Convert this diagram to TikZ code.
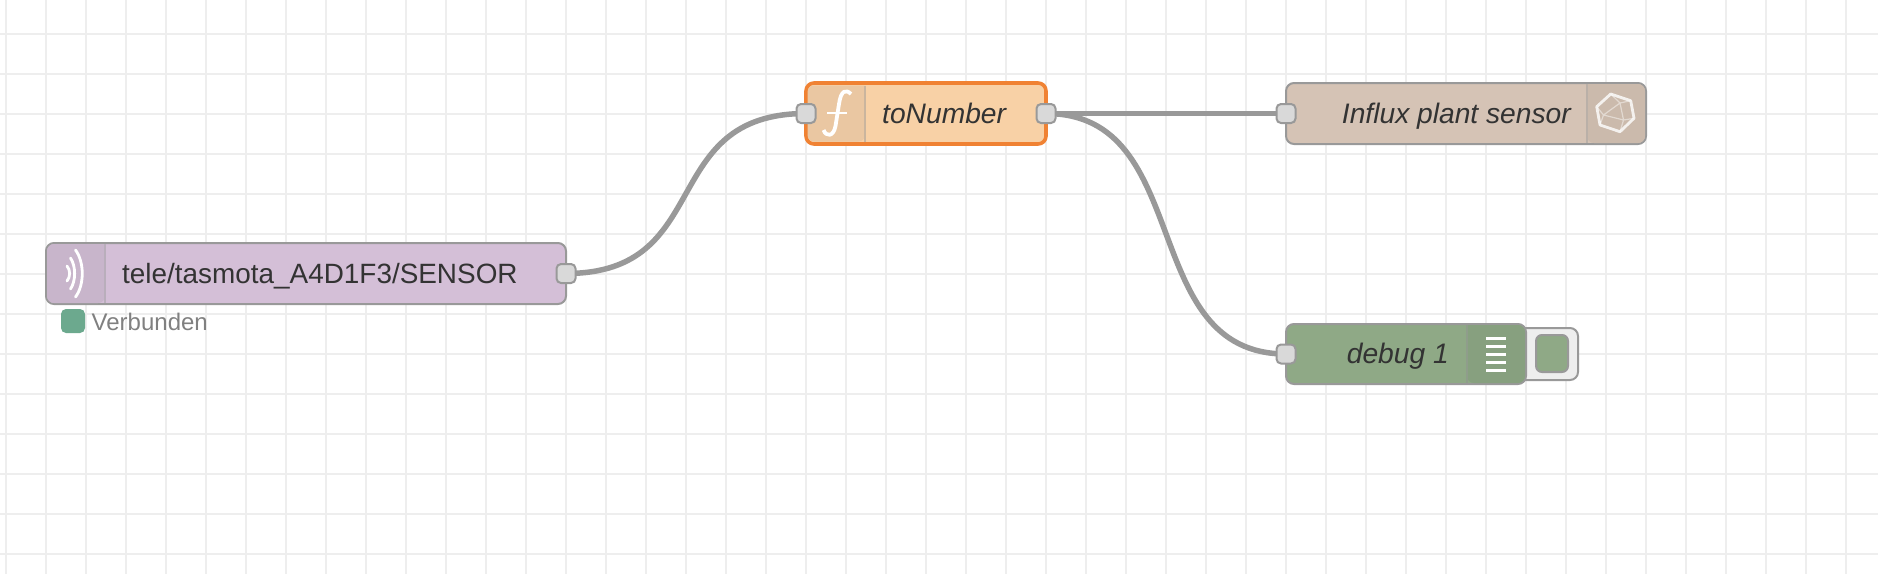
\documentclass[tikz,border=0pt]{standalone}
\usepackage{fontspec}
\setmainfont{Liberation Sans}
\pgfdeclarelayer{gridlayer}
\pgfdeclarelayer{wirelayer}
\pgfsetlayers{gridlayer,wirelayer,main}
\definecolor{gridc}{HTML}{EEEEEE}
\definecolor{edgec}{HTML}{999999}
\definecolor{portc}{HTML}{D9D9D9}
\definecolor{mqttc}{HTML}{D4BFD7}
\definecolor{mqtti}{HTML}{C8B5CB}
\definecolor{funcc}{HTML}{F8D1A6}
\definecolor{funci}{HTML}{EAC7A2}
\definecolor{inflc}{HTML}{D5C3B5}
\definecolor{infli}{HTML}{CBBAAC}
\definecolor{dbgc}{HTML}{8FA986}
\definecolor{dbgi}{HTML}{87A07F}
\definecolor{orangec}{HTML}{F08233}
\definecolor{textc}{HTML}{333333}
\definecolor{statc}{HTML}{6CA98E}
\tikzset{
  x=1pt,y=-1pt,
  flownode/.style={draw=edgec,line width=2pt,rounded corners=8pt,inner sep=0pt,outer sep=0pt},
  port/.style={draw=edgec,fill=portc,line width=2pt,rounded corners=4.5pt,minimum width=19pt,minimum height=19pt,inner sep=0pt},
  wire/.style={draw=edgec,line width=5.5pt},
  label/.style={font=\fontsize{27.9}{32}\selectfont,text=textc,inner sep=0pt},
  ilabel/.style={font=\fontsize{28.2}{32}\selectfont\itshape,text=textc,inner sep=0pt},
  icons/.style={draw=white,line width=2.8pt,line cap=round,line join=round},
  divider/.style={line width=1.2pt},
}
\begin{document}
\begin{tikzpicture}
\useasboundingbox (0,0) rectangle (1878,574);
\begin{pgfonlayer}{gridlayer}
\fill[white] (0,0) rectangle (1878,574);
\foreach \gx in {0,...,46} \draw[gridc,line width=2pt] ({6+40*\gx},0) -- ({6+40*\gx},574);
\foreach \gy in {0,...,13} \draw[gridc,line width=2pt] (0,{34+40*\gy}) -- (1878,{34+40*\gy});
\end{pgfonlayer}

% MQTT node
\node[flownode,fill=mqttc,minimum width=520pt,minimum height=61pt] (mqtt) at (306,273.5) {};
\fill[mqtti,rounded corners=7pt] (105,244) -- (47,244) -- (47,303) -- (105,303) [sharp corners] -- cycle;
\draw[edgec!45!mqttc,divider] (105,244) -- (105,303);
\draw[icons] (67,266) .. controls (70.5,270) and (70.5,277) .. (67,281);
\draw[icons] (70.5,258) .. controls (76,266) and (76,281) .. (70.5,289);
\draw[icons] (75.5,250) .. controls (84.5,262) and (84.5,285) .. (75.5,297);
\node[label,anchor=base west] (mqttlabel) at (122,283) {tele/tasmota\_A4D1F3/SENSOR};
\node[port] (mqttout) at (566,273.5) {};

% status
\node[fill=statc,rounded corners=5pt,minimum width=24pt,minimum height=24pt,inner sep=0pt] (status) at (73,321) {};
\node[font=\fontsize{24}{28}\selectfont,text=black!50,anchor=base west,inner sep=0pt] (statuslabel) at (91.5,330) {Verbunden};

% function node
\node[flownode,draw=orangec,line width=3.6pt,fill=funcc,minimum width=240pt,minimum height=61pt] (func) at (926,113.5) {};
\fill[funci,rounded corners=6.5pt] (865,85.5) -- (807.5,85.5) -- (807.5,141.5) -- (865,141.5) [sharp corners] -- cycle;
\draw[edgec!40!funci,divider] (865,85.5) -- (865,141.5);
\draw[icons,line width=3.8pt,line cap=butt] (851,94) .. controls (846,89) and (841,90) .. (839,104) -- (835.5,126) .. controls (833.5,137) and (826,137) .. (823.5,130);
\draw[icons,line width=2.8pt,line cap=butt] (827,113) -- (847,113);
\node[ilabel,anchor=base west] (funclabel) at (882,123) {toNumber};
\node[port] (funcin) at (806,113.5) {};
\node[port] (funcout) at (1046,113.5) {};

% influx node
\node[flownode,fill=inflc,minimum width=360pt,minimum height=61pt] (influx) at (1466,113.5) {};
\fill[infli,rounded corners=7pt] (1587,84) -- (1645,84) -- (1645,143) -- (1587,143) [sharp corners] -- cycle;
\draw[edgec!45!inflc,divider] (1587,84) -- (1587,143);
\draw[icons,opacity=.8] (1610.7,94) -- (1630.7,100.7) -- (1634,118.3) -- (1620,131.7) -- (1600,125) -- (1596.7,106.7) -- cycle;
\draw[white,line width=1.2pt,opacity=.45,line join=round] (1620,103) -- (1623.5,120) -- (1603.5,115) -- cycle
  (1610.7,94) -- (1620,103) -- (1630.7,100.7) (1620,131.7) -- (1623.5,120) -- (1634,118.3) (1600,125) -- (1603.5,115) -- (1596.7,106.7);
\node[ilabel,anchor=base east] (infllabel) at (1571,123) {Influx plant sensor};
\node[port] (influxin) at (1286,113.5) {};

% debug button
\node[draw=edgec,fill=gridc,line width=2pt,rounded corners=8pt,minimum width=62pt,minimum height=52pt,inner sep=0pt] (dbgbtn) at (1547,354) {};
\node[draw=edgec,fill=dbgc,line width=2pt,rounded corners=6pt,minimum width=32pt,minimum height=37pt,inner sep=0pt] (dbgtoggle) at (1552,353.5) {};
% debug node
\node[flownode,fill=dbgc,minimum width=240pt,minimum height=60pt] (debug) at (1406,354) {};
\fill[dbgi,rounded corners=7pt] (1467,325) -- (1525,325) -- (1525,383) -- (1467,383) [sharp corners] -- cycle;
\draw[edgec!45!dbgi,divider] (1467,325) -- (1467,383);
\foreach \ly in {338,346,354,362,370} \draw[white,line width=3pt] (1486,\ly) -- (1506,\ly);
\node[ilabel,anchor=base east] (dbglabel) at (1449,363.5) {debug 1};
\node[port] (debugin) at (1286,354) {};

% wires
\begin{pgfonlayer}{wirelayer}
\draw[wire] (mqttout.center) .. controls +(150,0) and +(-150,0) .. (funcin.center);
\draw[wire] (funcout.center) -- (influxin.center);
\draw[wire] (funcout.center) .. controls +(150,0) and +(-150,0) .. (debugin.center);
\end{pgfonlayer}
\end{tikzpicture}
\end{document}
